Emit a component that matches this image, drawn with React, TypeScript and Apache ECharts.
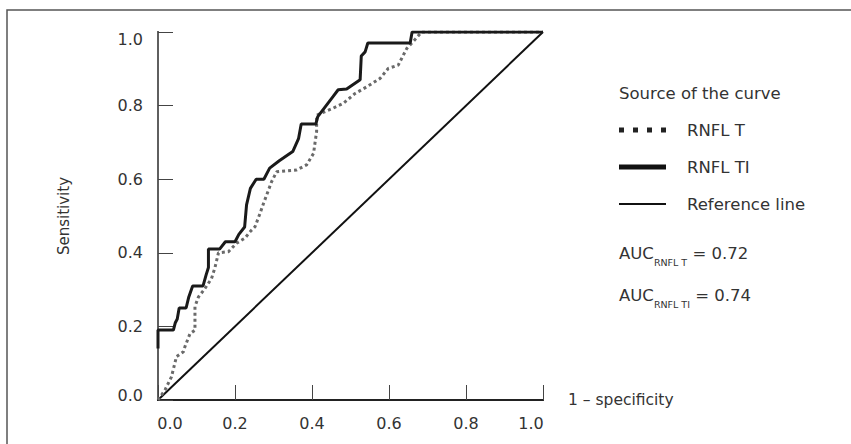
import React, { useEffect, useRef } from "react";
import * as echarts from "echarts";

const xTicks = [0, 0.2, 0.4, 0.6, 0.8, 1.0];
const yTicks = [0, 0.2, 0.4, 0.6, 0.8, 1.0];

const rnflTI: [number, number][] = [
  [0, 0.14], [0, 0.19], [0.04, 0.19], [0.045, 0.21], [0.05, 0.22], [0.055, 0.25],
  [0.073, 0.25], [0.08, 0.28], [0.09, 0.31], [0.117, 0.31], [0.125, 0.34], [0.131, 0.36],
  [0.131, 0.41], [0.16, 0.41], [0.175, 0.43], [0.2, 0.43], [0.21, 0.45], [0.225, 0.47],
  [0.23, 0.53], [0.24, 0.575], [0.255, 0.6], [0.275, 0.6], [0.29, 0.63], [0.315, 0.65],
  [0.35, 0.675], [0.365, 0.71], [0.372, 0.75], [0.41, 0.75], [0.415, 0.77], [0.455, 0.825],
  [0.468, 0.843], [0.49, 0.845], [0.525, 0.87], [0.528, 0.935], [0.538, 0.946], [0.545, 0.97],
  [0.655, 0.97], [0.66, 1], [1, 1],
];

const rnflT: [number, number][] = [
  [0, 0], [0.018, 0.027], [0.035, 0.063], [0.048, 0.118], [0.066, 0.131], [0.07, 0.145],
  [0.083, 0.18], [0.096, 0.19], [0.096, 0.254], [0.105, 0.28], [0.12, 0.3], [0.139, 0.33],
  [0.148, 0.36], [0.157, 0.4], [0.183, 0.403], [0.204, 0.426], [0.226, 0.44], [0.239, 0.457],
  [0.252, 0.471], [0.265, 0.507], [0.274, 0.534], [0.295, 0.593], [0.308, 0.62], [0.36, 0.625],
  [0.386, 0.639], [0.404, 0.67], [0.408, 0.7], [0.412, 0.73], [0.412, 0.774], [0.455, 0.793],
  [0.481, 0.806], [0.512, 0.833], [0.542, 0.851], [0.577, 0.874], [0.598, 0.901], [0.624, 0.91],
  [0.646, 0.955], [0.663, 0.974], [0.685, 1], [1, 1],
];

const referenceLine: [number, number][] = [[0, 0], [1, 1]];

const legendTitle = "Source of the curve";
const seriesNames = ["RNFL T", "RNFL TI", "Reference line"];
const aucLabels = ["RNFL T", "RNFL TI"];
const aucValues = ["0.72", "0.74"];
const xName = "1 – specificity";
const yName = "Sensitivity";

const FONT = "DejaVu Sans";
const TXT = "#333333";

export default function App() {
  const ref = useRef<HTMLDivElement>(null);
  useEffect(() => {
    document.body.style.margin = "0";
    const chart = echarts.init(ref.current!, null, { renderer: "svg" });
    const tickFont = { fontFamily: FONT, fontSize: 16, color: TXT };
    const legendText = (text: string, x: number, y: number) => ({
      type: "text",
      x,
      y,
      style: { text, fill: TXT, font: `16.5px ${FONT}`, verticalAlign: "middle" },
    });
    const aucText = (i: number, y: number) => ({
      type: "text",
      x: 619,
      y,
      style: {
        text: `{a|AUC}{s|${aucLabels[i]}}{a| = ${aucValues[i]}}`,
        verticalAlign: "middle",
        rich: {
          a: { fontFamily: FONT, fontSize: 16.5, fill: TXT },
          s: { fontFamily: FONT, fontSize: 9.5, fill: TXT, padding: [18, 0, 0, 0] },
        },
      },
    });
    chart.setOption({
      animation: false,
      grid: { left: 158, right: 308, top: 32, bottom: 44 },
      xAxis: [
        {
          type: "value",
          min: 0,
          max: 1,
          interval: 0.2,
          name: xName,
          nameLocation: "end",
          nameGap: 25,
          nameTextStyle: { fontFamily: FONT, fontSize: 15.5, color: TXT, verticalAlign: "middle" },
          axisLine: { show: true, lineStyle: { color: "#1a1a1a", width: 2 } },
          axisTick: { show: true, inside: true, length: 15, lineStyle: { color: "#444", width: 1 } },
          splitLine: { show: false },
          axisLabel: {
            ...tickFont,
            margin: 15,
            formatter: (v: number) =>
              v === 0 ? `{l|${xTicks[0].toFixed(1)}}` : v === 1 ? `{r|${xTicks[5].toFixed(1)}}` : v.toFixed(1),
            rich: {
              l: { ...tickFont, padding: [0, 0, 0, 24] },
              r: { ...tickFont, padding: [0, 24, 0, 0] },
            },
          },
        },
        {
          type: "value",
          min: 0,
          max: 1,
          position: "top",
          axisLine: { show: true, lineStyle: { color: "#222", width: 2 } },
          axisTick: { show: false },
          axisLabel: { show: false },
          splitLine: { show: false },
        },
      ],
      yAxis: [
        {
          type: "value",
          min: 0,
          max: 1,
          interval: 0.2,
          name: yName,
          nameLocation: "middle",
          nameGap: 87,
          nameRotate: 90,
          nameTextStyle: { fontFamily: FONT, fontSize: 15, color: TXT },
          axisLine: { show: true, lineStyle: { color: "#1a1a1a", width: 2 } },
          axisTick: { show: true, inside: true, length: 15, lineStyle: { color: "#444", width: 1 } },
          splitLine: { show: false },
          axisLabel: {
            ...tickFont,
            margin: 15,
            formatter: (v: number) =>
              v === 1 ? `{t|${yTicks[5].toFixed(1)}}` : v === 0 ? `{b|${yTicks[0].toFixed(1)}}` : v.toFixed(1),
            rich: {
              t: { ...tickFont, padding: [15, 0, 0, 0] },
              b: { ...tickFont, padding: [0, 0, 10, 0] },
            },
          },
        },
        {
          type: "value",
          min: 0,
          max: 1,
          position: "right",
          axisLine: { show: true, lineStyle: { color: "#777", width: 1.5 } },
          axisTick: { show: false },
          axisLabel: { show: false },
          splitLine: { show: false },
        },
      ],
      series: [
        {
          name: seriesNames[2],
          type: "line",
          data: referenceLine,
          showSymbol: false,
          lineStyle: { color: "#111", width: 2 },
          z: 2,
        },
        {
          name: seriesNames[0],
          type: "line",
          data: rnflT,
          showSymbol: false,
          lineStyle: { color: "#6a6a6a", width: 3, type: [3, 3] },
          z: 3,
        },
        {
          name: seriesNames[1],
          type: "line",
          data: rnflTI,
          showSymbol: false,
          lineStyle: { color: "#1a1a1a", width: 3 },
          z: 4,
        },
      ],
      graphic: [
        {
          type: "rect",
          shape: { x: 7, y: 10, width: 900, height: 500 },
          style: { fill: "none", stroke: "#555", lineWidth: 1.5 },
          silent: true,
        },
        legendText(legendTitle, 619, 93),
        {
          type: "line",
          shape: { x1: 619, y1: 130, x2: 667, y2: 130 },
          style: { stroke: "#222", lineWidth: 5, lineDash: [5, 9] },
        },
        legendText(seriesNames[0], 687, 130),
        {
          type: "line",
          shape: { x1: 619, y1: 167, x2: 666, y2: 167 },
          style: { stroke: "#111", lineWidth: 5 },
        },
        legendText(seriesNames[1], 687, 167),
        {
          type: "line",
          shape: { x1: 619, y1: 204, x2: 666, y2: 204 },
          style: { stroke: "#111", lineWidth: 2 },
        },
        legendText(seriesNames[2], 687, 204),
        aucText(0, 253),
        aucText(1, 295),
      ],
    });
    return () => chart.dispose();
  }, []);
  return <div ref={ref} style={{ width: 851, height: 444 }} />;
}
